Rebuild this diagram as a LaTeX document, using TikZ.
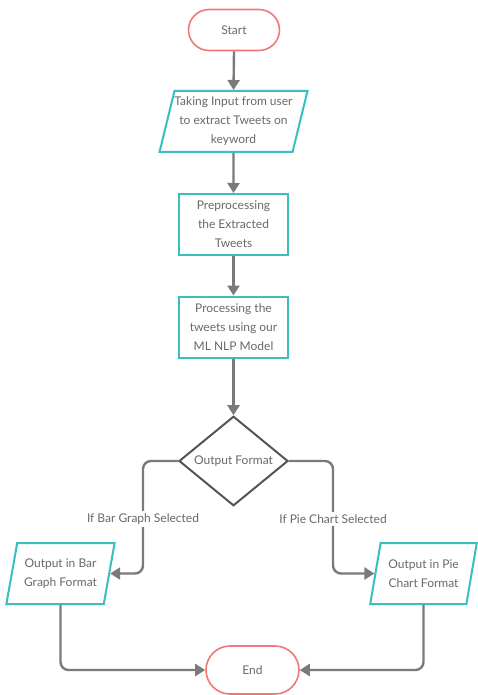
\documentclass[tikz,border=0pt]{standalone}
\usepackage{fontspec}
\setmainfont{Lato}
\usetikzlibrary{shapes.geometric,arrows.meta}
\definecolor{teal1}{RGB}{58,190,190}
\definecolor{pill}{RGB}{240,120,120}
\definecolor{arrc}{RGB}{122,122,122}
\definecolor{txt}{RGB}{105,105,105}
\definecolor{dia}{RGB}{85,85,85}
\tikzset{
  base/.style={align=center,text=txt,font=\fontsize{12}{19}\selectfont,inner sep=0pt},
  pillbox/.style={base,draw=pill,line width=1.6pt,fill=white},
  procbox/.style={base,draw=teal1,line width=2pt,fill=white,rectangle,minimum width=109,minimum height=61},
  iobox/.style={base,draw=teal1,line width=2pt,fill=white,trapezium,trapezium left angle=73,trapezium right angle=107,trapezium stretches=true},
  decbox/.style={base,draw=dia,line width=2pt,fill=white,diamond,minimum width=109,minimum height=82},
  arr/.style={draw=arrc,line width=2.4pt,-{Triangle[width=12pt,length=10pt]},rounded corners=8pt},
  lbl/.style={base,fill=white,inner sep=3pt}
}
\begin{document}
\begin{tikzpicture}[x=1pt,y=-1pt]
\useasboundingbox[fill=white] (0,0) rectangle (477,695);
\node[pillbox,rounded corners=20.5pt,minimum width=91,minimum height=41] (start) at (234,30) {Start};
\node[iobox,minimum width=147,minimum height=61] (inp) at (233.5,121.5) {Taking Input from user\\to extract Tweets on\\keyword};
\node[procbox] (pre) at (233.5,224.5) {Preprocessing\\the Extracted\\Tweets};
\node[procbox] (proc) at (233.5,327) {Processing the\\tweets using our\\ML NLP Model};
\node[decbox] (dec) at (233.5,461) {Output Format};
\node[iobox,minimum width=109,minimum height=61] (bar) at (60.5,573.5) {Output in Bar\\Graph Format};
\node[iobox,minimum width=107,minimum height=61] (pie) at (423.5,573.5) {Output in Pie\\Chart Format};
\node[pillbox,rounded corners=24pt,minimum width=93,minimum height=48] (end) at (252.5,670) {End};

\draw[arr] (start.south) -- (inp.north);
\draw[arr] (inp.south) -- (pre.north);
\draw[arr] (pre.south) -- (proc.north);
\draw[arr] (proc.south) -- (dec.north);
\coordinate (lt) at (143,461);
\coordinate (rt) at (333,461);
\draw[arr] (dec.west) -- (lt) |- (bar.east);
\draw[arr] (dec.east) -- (rt) |- (pie.west);
\draw[arr] (bar.center |- bar.south) |- (end.west);
\draw[arr] (pie.center |- pie.south) |- (end.east);
\node[lbl] (lb) at (143,519) {If Bar Graph Selected};
\node[lbl] (rb) at (333,519) {If Pie Chart Selected};
\end{tikzpicture}
\end{document}
